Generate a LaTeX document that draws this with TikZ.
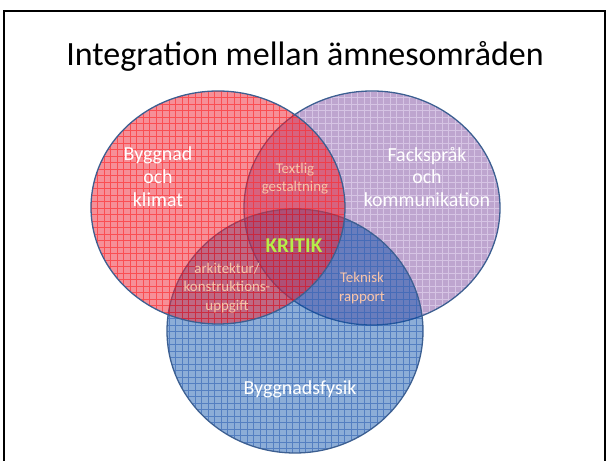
\documentclass[tikz,border=0pt]{standalone}
\usepackage{fontspec}
\setmainfont{Carlito}
\definecolor{lilac}{RGB}{190,165,207}
\definecolor{lilacgrid}{RGB}{214,196,228}
\definecolor{redfill}{RGB}{238,40,55}
\definecolor{redgrid}{RGB}{255,0,0}
\definecolor{bluefill}{RGB}{10,80,170}
\definecolor{bluegrid}{RGB}{0,60,160}
\definecolor{rimblue}{RGB}{60,95,145}
\definecolor{peach}{RGB}{248,196,168}
\definecolor{kritikgreen}{RGB}{182,238,72}

\begin{document}
\begin{tikzpicture}[x=0.03cm,y=-0.03cm,
  rim/.style={draw=rimblue,line width=1.1pt},
  gridlines/.style={line width=0.4pt,step=0.195cm},
  lbl/.style={text=white,align=center,font=\fontsize{17}{19.6}\selectfont},
  sublbl/.style={text=peach,align=center,font=\fontsize{12.7}{15.5}\selectfont}]
 \useasboundingbox (0,0) rectangle (608,461);
 \draw[line width=1.8pt] (4,480) -- (4,11) -- (605,11) -- (605,480);
 \node[font=\fontsize{29}{34}\selectfont,anchor=base] (title) at (305,66) {Integration mellan ämnesområden};
 % lilac circle
 \fill[lilac] (372,208) ellipse [x radius=128,y radius=117];
 \begin{scope}
  \clip (372,208) ellipse [x radius=128,y radius=117];
  \draw[gridlines,lilacgrid] (240,85) grid (505,330);
 \end{scope}
 \draw[rim] (372,208) ellipse [x radius=128,y radius=117];
 % blue circle
 \fill[bluefill,fill opacity=0.47] (295,331) ellipse [x radius=128,y radius=122];
 \begin{scope}
  \clip (295,331) ellipse [x radius=128,y radius=122];
  \draw[gridlines,bluegrid,draw opacity=0.4] (160,205) grid (430,460);
 \end{scope}
 \draw[rim] (295,331) ellipse [x radius=128,y radius=122];
 % red circle
 \fill[redfill,fill opacity=0.52] (218,207.5) ellipse [x radius=127,y radius=116.5];
 \begin{scope}
  \clip (218,207.5) ellipse [x radius=127,y radius=116.5];
  \draw[gridlines,redgrid,draw opacity=0.45] (85,85) grid (350,330);
 \end{scope}
 \draw[rim] (218,207.5) ellipse [x radius=127,y radius=116.5];
 % labels
 \node[lbl] (klimat) at (158,177) {Byggnad\\och\\klimat};
 \node[lbl] (fack) at (427,177) {Fackspråk\\och\\kommunikation};
 \node[lbl] (fysik) at (300,389) {Byggnadsfysik};
 \node[sublbl] (textlig) at (295,179) {Textlig\\gestaltning};
 \node[sublbl] (arkitektur) at (227,288) {arkitektur/\\konstruktions-\\uppgift};
 \node[sublbl] (teknisk) at (362,288) {Teknisk\\rapport};
 \node[text=kritikgreen,font=\bfseries\fontsize{18}{20}\selectfont] (kritik) at (294,246) {KRITIK};
\end{tikzpicture}
\end{document}
